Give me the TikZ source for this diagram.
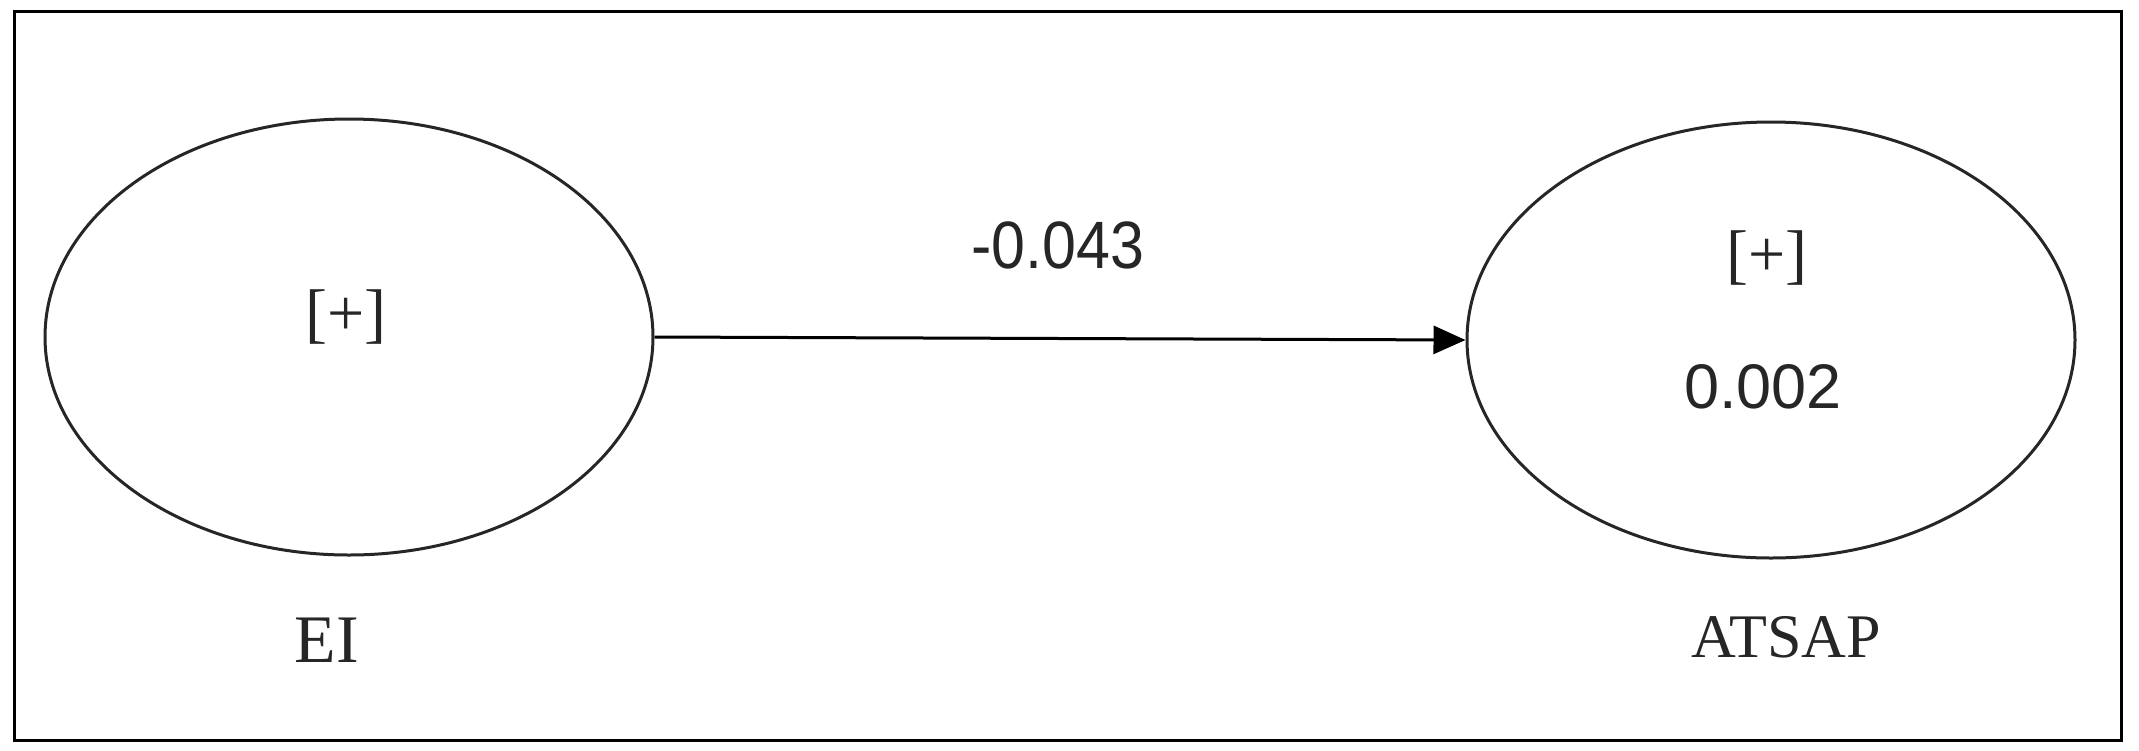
\documentclass[tikz,border=0pt]{standalone}
\usepackage{fontspec}
\setmainfont{Liberation Serif}
\newfontfamily\arialfont{Liberation Sans}
\usetikzlibrary{shapes.geometric,arrows.meta}
\tikzset{
  latent/.style={draw=black!85, line width=3pt, ellipse, minimum width=608pt, minimum height=436pt, inner sep=0pt},
  serlab/.style={anchor=base, inner sep=0pt, text=black!85},
  sanslab/.style={anchor=base, inner sep=0pt, text=black!85},
  pathline/.style={line width=3pt, -{Triangle[length=32pt,width=28pt]}},
}
\begin{document}
\begin{tikzpicture}[x=1pt,y=-1pt]
\useasboundingbox (0,0) rectangle (2139,750);
\node[draw=black, line width=3.5pt, minimum width=2107pt, minimum height=729pt, inner sep=0pt] (frame) at (1068,376) {};
\node[latent] (EI) at (349,337) {};
\node[latent] (ATSAP) at (1771,340) {};
\node[serlab, font=\fontsize{66}{70}\selectfont] (EIplus) at (346,335) {[+]};
\node[serlab, font=\fontsize{68}{72}\selectfont] (EIname) at (327,662) {EI};
\node[serlab, font=\fontsize{66}{70}\selectfont] (ATplus) at (1767,276) {[+]};
\node[sanslab, font=\arialfont\fontsize{63}{67}\selectfont] (ATr2) at (1763,408) {0.002};
\node[serlab, font=\fontsize{62}{66}\selectfont] (ATname) at (1786,657) {ATSAP};
\draw[pathline] (EI.east) -- (ATSAP.west);
\node[sanslab, font=\arialfont\fontsize{67}{70}\selectfont, xscale=0.91] (coef) at (1058,268) {-0.043};
\end{tikzpicture}
\end{document}
